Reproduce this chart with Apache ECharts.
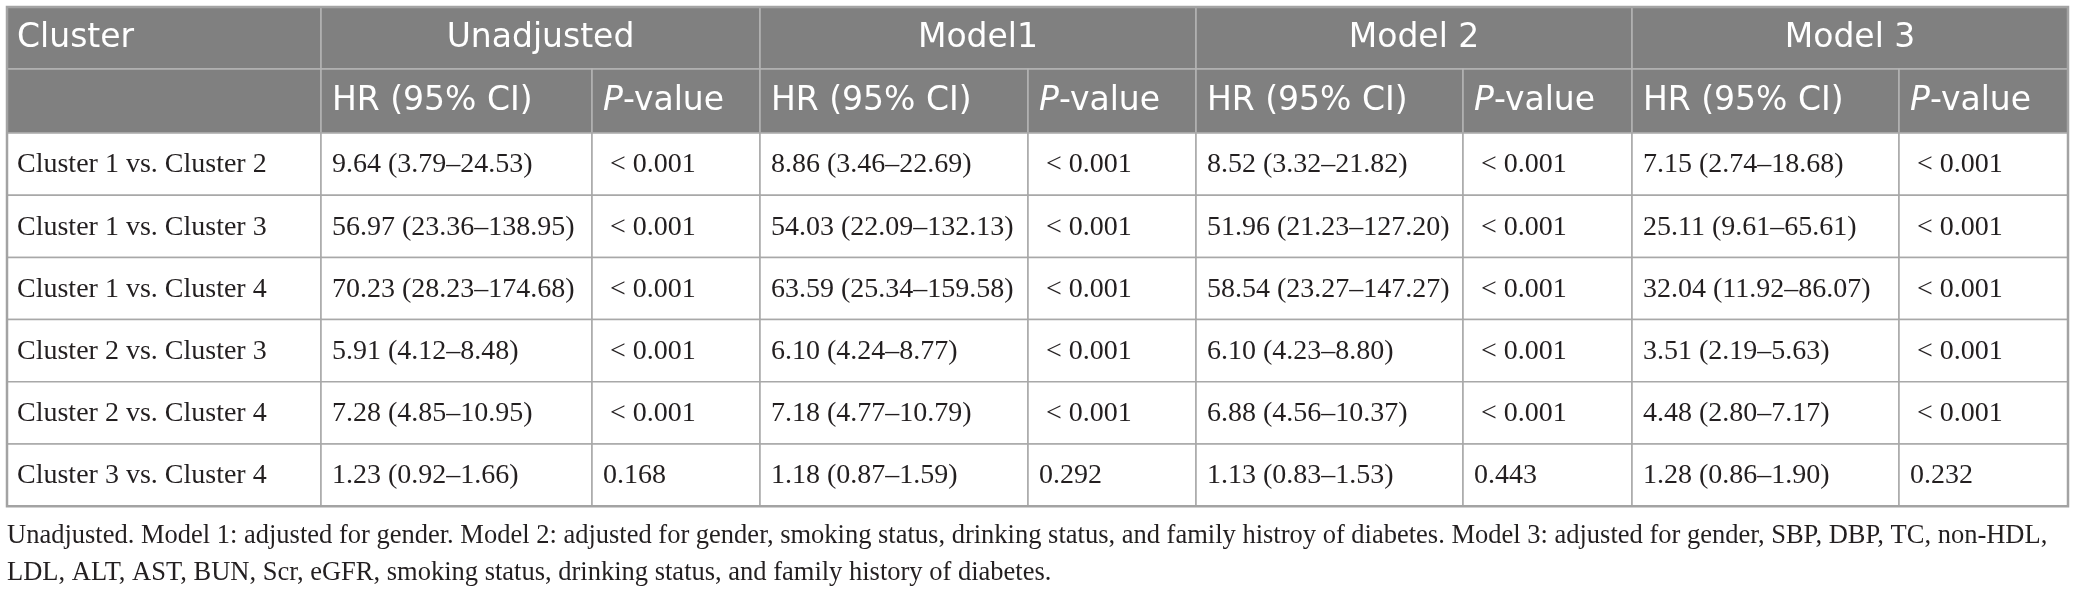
<!DOCTYPE html>
<html lang="en">
<head>
    <meta charset="UTF-8">
    <title>Cluster HR table</title>
    <style>
        html, body {
            margin: 0;
            padding: 0;
            background: #fff;
        }

        #chart1 {
            width: 2076px;
            height: 599px;
        }
    </style>
</head>
<body>
<div id="chart1"></div>
<script src="https://cdn.jsdelivr.net/npm/echarts@6/dist/echarts.min.js"></script>
<script type="text/javascript">
    // table data
    var comparisons = ['Cluster 1 vs. Cluster 2', 'Cluster 1 vs. Cluster 3', 'Cluster 1 vs. Cluster 4',
        'Cluster 2 vs. Cluster 3', 'Cluster 2 vs. Cluster 4', 'Cluster 3 vs. Cluster 4'];
    var models = ['Unadjusted', 'Model1', 'Model 2', 'Model 3'];
    var subHeaders = ['HR (95% CI)', 'P-value'];

    // [HR, lower, upper]
    var unadjusted = [[9.64, 3.79, 24.53], [56.97, 23.36, 138.95], [70.23, 28.23, 174.68],
        [5.91, 4.12, 8.48], [7.28, 4.85, 10.95], [1.23, 0.92, 1.66]];
    var model1 = [[8.86, 3.46, 22.69], [54.03, 22.09, 132.13], [63.59, 25.34, 159.58],
        [6.10, 4.24, 8.77], [7.18, 4.77, 10.79], [1.18, 0.87, 1.59]];
    var model2 = [[8.52, 3.32, 21.82], [51.96, 21.23, 127.20], [58.54, 23.27, 147.27],
        [6.10, 4.23, 8.80], [6.88, 4.56, 10.37], [1.13, 0.83, 1.53]];
    var model3 = [[7.15, 2.74, 18.68], [25.11, 9.61, 65.61], [32.04, 11.92, 86.07],
        [3.51, 2.19, 5.63], [4.48, 2.80, 7.17], [1.28, 0.86, 1.90]];

    var unadjustedP = ['< 0.001', '< 0.001', '< 0.001', '< 0.001', '< 0.001', '0.168'];
    var model1P = ['< 0.001', '< 0.001', '< 0.001', '< 0.001', '< 0.001', '0.292'];
    var model2P = ['< 0.001', '< 0.001', '< 0.001', '< 0.001', '< 0.001', '0.443'];
    var model3P = ['< 0.001', '< 0.001', '< 0.001', '< 0.001', '< 0.001', '0.232'];

    var footnote = [
        'Unadjusted. Model 1: adjusted for gender. Model 2: adjusted for gender, smoking status, drinking status, and family histroy of diabetes. Model 3: adjusted for gender, SBP, DBP, TC, non-HDL,',
        'LDL, ALT, AST, BUN, Scr, eGFR, smoking status, drinking status, and family history of diabetes.'
    ];

    // layout (reference pixel units)
    var colEdges = [7, 321, 592, 760, 1028, 1196, 1463, 1632, 1899, 2068];
    var rowEdges = [7, 69, 133, 195.2, 257.4, 319.6, 381.8, 444, 506.2];

    var headFont = '"DejaVu Sans", sans-serif';
    var bodyFont = '"Liberation Serif", "Times New Roman", serif';

    function fmt(t) {
        return t[0].toFixed(2) + ' (' + t[1].toFixed(2) + '\u2013' + t[2].toFixed(2) + ')';
    }

    // build cell list
    var cells = [];
    cells.push({c0: 0, c1: 1, r: 0, text: 'Cluster', kind: 'head', align: 'left'});
    cells.push({c0: 0, c1: 1, r: 1, text: '', kind: 'head', align: 'left'});
    models.forEach(function (m, i) {
        cells.push({c0: 1 + i * 2, c1: 3 + i * 2, r: 0, text: m, kind: 'head', align: 'center'});
        cells.push({c0: 1 + i * 2, c1: 2 + i * 2, r: 1, text: subHeaders[0], kind: 'head', align: 'left'});
        cells.push({c0: 2 + i * 2, c1: 3 + i * 2, r: 1, text: subHeaders[1], kind: 'headP', align: 'left'});
    });
    var hrSets = [unadjusted, model1, model2, model3];
    var pSets = [unadjustedP, model1P, model2P, model3P];
    comparisons.forEach(function (name, j) {
        cells.push({c0: 0, c1: 1, r: j + 2, text: name, kind: 'body', align: 'left'});
        for (var i = 0; i < 4; i++) {
            cells.push({c0: 1 + i * 2, c1: 2 + i * 2, r: j + 2, text: fmt(hrSets[i][j]), kind: 'body', align: 'left'});
            var p = pSets[i][j];
            cells.push({c0: 2 + i * 2, c1: 3 + i * 2, r: j + 2, text: p.charAt(0) === '<' ? ' ' + p : p, kind: 'body', align: 'left'});
        }
    });

    function renderCell(params, api) {
        var cell = cells[params.dataIndex];
        var p0 = api.coord([colEdges[cell.c0], rowEdges[cell.r]]);
        var p1 = api.coord([colEdges[cell.c1], rowEdges[cell.r + 1]]);
        var w = p1[0] - p0[0], h = p1[1] - p0[1];
        var isHead = cell.kind !== 'body';
        var tx = cell.align === 'center' ? p0[0] + w / 2 : p0[0] + (cell.c0 === 0 ? 10 : 11);
        var textStyle;
        if (cell.kind === 'headP') {
            textStyle = {
                text: '{i|P}{n|-value}',
                rich: {
                    i: {fontStyle: 'italic', fontFamily: headFont, fontSize: 33, fill: '#fff'},
                    n: {fontFamily: headFont, fontSize: 33, fill: '#fff'}
                },
                fontFamily: headFont, fontSize: 33, fill: '#fff',
                align: 'left', verticalAlign: 'middle'
            };
        } else {
            textStyle = {
                text: cell.text,
                fontFamily: isHead ? headFont : bodyFont,
                fontSize: isHead ? 33 : 28,
                fill: isHead ? '#fff' : '#231f20',
                align: cell.align,
                verticalAlign: 'middle'
            };
        }
        return {
            type: 'group',
            children: [{
                type: 'rect',
                shape: {x: p0[0], y: p0[1], width: w, height: h},
                style: {
                    fill: isHead ? '#808080' : '#fff',
                    stroke: isHead ? '#b4b4b4' : '#a8a8a8',
                    lineWidth: 1.5
                }
            }, {
                type: 'text',
                x: tx,
                y: p0[1] + h / 2 + (isHead ? 0 : 1),
                style: textStyle
            }]
        };
    }

    var chart1 = echarts.init(document.getElementById('chart1'));
    chart1.setOption({
        animation: false,
        title: {
            text: footnote.join('\n'),
            left: 7,
            top: 518,
            padding: 0,
            textStyle: {
                fontFamily: bodyFont,
                fontSize: 26.5,
                fontWeight: 'normal',
                color: '#231f20',
                lineHeight: 37
            }
        },
        grid: {left: 0, right: 0, top: 0, bottom: 0},
        xAxis: {type: 'value', min: 0, max: 2076, show: false},
        yAxis: {type: 'value', min: 0, max: 599, inverse: true, show: false},
        series: [{
            type: 'custom',
            silent: true,
            clip: false,
            renderItem: renderCell,
            data: cells.map(function (c) {
                return [colEdges[c.c0], rowEdges[c.r]];
            })
        }, {
            // outer border
            type: 'custom',
            silent: true,
            clip: false,
            renderItem: function (params, api) {
                var a = api.coord([colEdges[0], rowEdges[0]]);
                var b = api.coord([colEdges[colEdges.length - 1], rowEdges[rowEdges.length - 1]]);
                return {
                    type: 'rect',
                    shape: {x: a[0], y: a[1], width: b[0] - a[0], height: b[1] - a[1]},
                    style: {fill: 'none', stroke: '#a3a3a3', lineWidth: 2.5}
                };
            },
            data: [[0, 0]]
        }]
    });
</script>
</body>
</html>
